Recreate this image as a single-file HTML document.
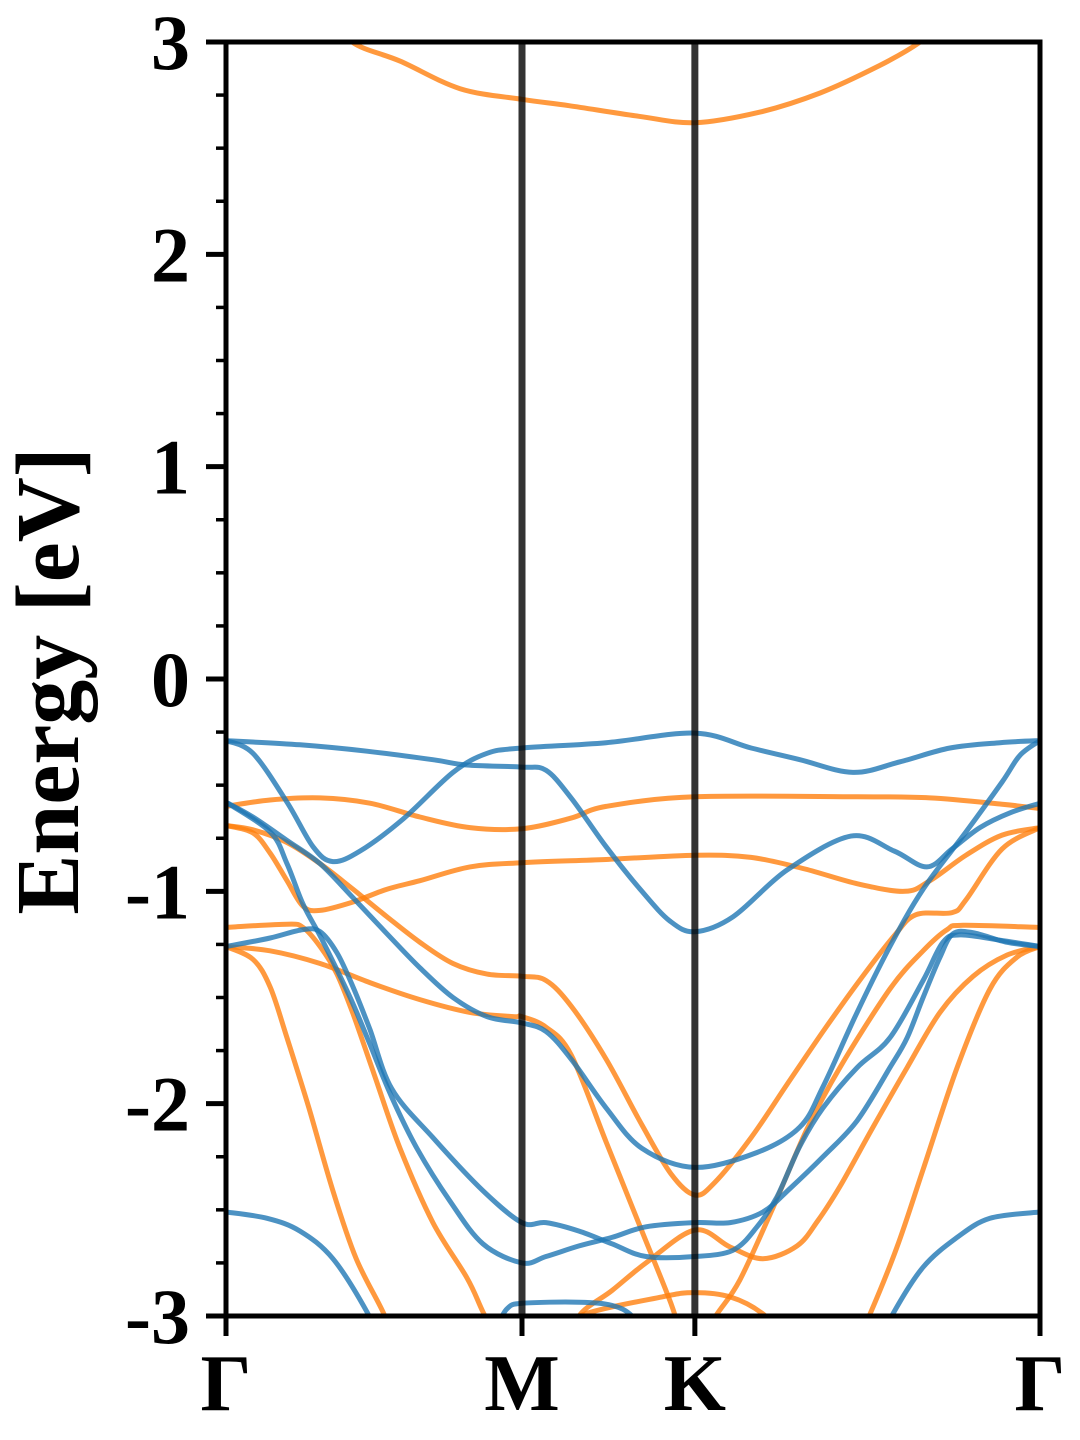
<!DOCTYPE html>
<html><head><meta charset="utf-8"><style>
html,body{margin:0;padding:0;background:#fff;}
svg{display:block;}
text{font-family:"Liberation Serif",serif;font-weight:bold;fill:#000;}
</style></head><body>
<svg id="chart" width="1080" height="1440" viewBox="0 0 1080 1440" xmlns="http://www.w3.org/2000/svg">
<defs><clipPath id="plotclip"><rect x="226" y="42" width="814" height="1274"/></clipPath></defs>
<g id="bands" clip-path="url(#plotclip)"></g>
<g id="vlines"></g>
<rect x="226" y="42" width="814" height="1274" fill="none" stroke="#000" stroke-width="5"/>
<g id="yaxis"></g>
<g id="xaxis"></g>
<text transform="translate(78,681) rotate(-90)" text-anchor="middle" font-size="90">Energy [eV]</text>
</svg>
<script>
const kLabels = ["Γ","M","K","Γ"];
const kTicks = [0, 1.0, 1.584, 2.75];
const yTicks = [-3,-2,-1,0,1,2,3];
const yMin = -3, yMax = 3;
// spin-up (blue) bands: [k, E]
const blue1 = [[0,-0.29],[0.25,-0.31],[0.476,-0.34],[0.699,-0.38],[0.814,-0.405],[1.0,-0.415],[1.081,-0.43],[1.166,-0.56],[1.284,-0.79],[1.405,-1.0],[1.5,-1.14],[1.584,-1.19],[1.713,-1.12],[1.895,-0.90],[2.111,-0.74],[2.257,-0.81],[2.368,-0.885],[2.453,-0.80],[2.547,-0.70],[2.649,-0.63],[2.75,-0.585]];
const blue2 = [[0,-0.29],[0.091,-0.35],[0.206,-0.58],[0.294,-0.79],[0.361,-0.86],[0.453,-0.81],[0.598,-0.66],[0.767,-0.44],[0.882,-0.35],[1.0,-0.325],[1.284,-0.30],[1.584,-0.255],[1.774,-0.325],[1.939,-0.38],[2.118,-0.44],[2.277,-0.39],[2.446,-0.325],[2.615,-0.30],[2.75,-0.29]];
const blue3 = [[0,-0.58],[0.091,-0.65],[0.206,-0.76],[0.318,-0.87],[0.429,-1.03],[0.544,-1.20],[0.655,-1.36],[0.767,-1.50],[0.882,-1.59],[1.0,-1.62],[1.081,-1.66],[1.166,-1.79],[1.284,-2.02],[1.405,-2.21],[1.584,-2.30],[1.794,-2.23],[1.939,-2.11],[2.017,-1.92],[2.132,-1.57],[2.243,-1.26],[2.355,-0.99],[2.5,-0.72],[2.622,-0.485],[2.682,-0.36],[2.75,-0.29]];
const blue4 = [[0,-0.58],[0.149,-0.72],[0.206,-0.87],[0.26,-1.06],[0.318,-1.21],[0.375,-1.37],[0.429,-1.53],[0.486,-1.72],[0.56,-1.97],[0.645,-2.21],[0.757,-2.46],[0.868,-2.66],[1.0,-2.75],[1.081,-2.72],[1.193,-2.67],[1.304,-2.63],[1.419,-2.58],[1.584,-2.56],[1.703,-2.56],[1.814,-2.51],[1.905,-2.40],[2.017,-2.25],[2.132,-2.08],[2.243,-1.83],[2.301,-1.69],[2.355,-1.50],[2.412,-1.31],[2.456,-1.20],[2.524,-1.195],[2.639,-1.24],[2.75,-1.26]];
const blue5 = [[0,-1.26],[0.149,-1.22],[0.26,-1.18],[0.318,-1.19],[0.375,-1.29],[0.429,-1.45],[0.486,-1.65],[0.56,-1.93],[0.699,-2.16],[0.868,-2.41],[1.0,-2.56],[1.081,-2.56],[1.193,-2.60],[1.304,-2.66],[1.419,-2.72],[1.584,-2.72],[1.713,-2.69],[1.794,-2.58],[1.861,-2.44],[1.939,-2.20],[2.017,-2.02],[2.132,-1.83],[2.243,-1.69],[2.355,-1.42],[2.422,-1.24],[2.48,-1.205],[2.615,-1.23],[2.75,-1.26]];
const blue6a = [[0,-2.51],[0.139,-2.54],[0.25,-2.60],[0.361,-2.73],[0.476,-2.98],[0.53,-3.15]];
const blue6b = [[2.2,-3.15],[2.253,-2.99],[2.355,-2.77],[2.47,-2.63],[2.581,-2.54],[2.75,-2.51]];
const blue7 = [[0.85,-3.15],[0.916,-3.04],[0.95,-2.965],[1.0,-2.94],[1.193,-2.935],[1.304,-2.95],[1.372,-3.0],[1.43,-3.12]];
// spin-down (orange) bands
const orng1 = [[0.35,3.15],[0.426,3.0],[0.588,2.91],[0.791,2.78],[1.0,2.73],[1.159,2.70],[1.395,2.65],[1.584,2.62],[1.804,2.67],[2.007,2.76],[2.209,2.89],[2.345,3.0],[2.42,3.1]];
const orng2 = [[0,-0.60],[0.149,-0.57],[0.318,-0.56],[0.486,-0.585],[0.655,-0.65],[0.824,-0.70],[1.0,-0.705],[1.166,-0.655],[1.284,-0.60],[1.584,-0.555],[2.135,-0.555],[2.378,-0.56],[2.622,-0.59],[2.75,-0.61]];
const orng3 = [[0,-0.69],[0.091,-0.725],[0.149,-0.82],[0.206,-0.95],[0.26,-1.07],[0.318,-1.09],[0.429,-1.05],[0.544,-0.99],[0.655,-0.95],[0.824,-0.885],[1.0,-0.865],[1.284,-0.85],[1.584,-0.83],[1.774,-0.84],[1.956,-0.895],[2.135,-0.965],[2.294,-1.0],[2.378,-0.95],[2.5,-0.83],[2.622,-0.735],[2.75,-0.70]];
const orng4 = [[0,-0.69],[0.091,-0.71],[0.206,-0.77],[0.318,-0.87],[0.429,-0.99],[0.544,-1.12],[0.655,-1.24],[0.767,-1.34],[0.882,-1.39],[1.0,-1.40],[1.081,-1.42],[1.166,-1.54],[1.284,-1.79],[1.405,-2.10],[1.503,-2.33],[1.584,-2.43],[1.652,-2.37],[1.774,-2.16],[1.895,-1.91],[2.017,-1.66],[2.135,-1.43],[2.257,-1.21],[2.331,-1.11],[2.453,-1.10],[2.5,-1.04],[2.622,-0.80],[2.75,-0.70]];
const orng5 = [[0,-1.17],[0.206,-1.155],[0.26,-1.17],[0.318,-1.26],[0.375,-1.39],[0.43,-1.58],[0.50,-1.86],[0.588,-2.21],[0.699,-2.56],[0.814,-2.82],[0.868,-2.98],[0.93,-3.15]];
const orng6 = [[0,-1.26],[0.149,-1.28],[0.318,-1.34],[0.486,-1.43],[0.655,-1.51],[0.824,-1.57],[0.97,-1.59],[1.0,-1.59],[1.081,-1.64],[1.166,-1.77],[1.284,-2.18],[1.405,-2.60],[1.503,-2.94],[1.55,-3.15]];
const orng7 = [[0,-1.26],[0.091,-1.32],[0.149,-1.45],[0.206,-1.69],[0.28,-2.02],[0.361,-2.41],[0.44,-2.73],[0.53,-2.98],[0.58,-3.15]];
const orng8 = [[1.58,-3.15],[1.659,-2.99],[1.736,-2.83],[1.848,-2.49],[1.963,-2.12],[2.074,-1.83],[2.243,-1.46],[2.355,-1.28],[2.436,-1.18],[2.49,-1.16],[2.75,-1.17]];
const orng9 = [[1.18,-3.15],[1.193,-3.0],[1.304,-2.88],[1.419,-2.75],[1.584,-2.595],[1.703,-2.675],[1.814,-2.73],[1.929,-2.67],[2.0,-2.55],[2.074,-2.39],[2.186,-2.11],[2.301,-1.83],[2.412,-1.57],[2.524,-1.40],[2.639,-1.30],[2.75,-1.26]];
const orng10 = [[1.1,-3.12],[1.193,-3.0],[1.473,-2.91],[1.584,-2.89],[1.703,-2.91],[1.814,-2.99],[1.9,-3.12]];
const orng11 = [[2.12,-3.15],[2.176,-2.99],[2.267,-2.675],[2.355,-2.31],[2.47,-1.83],[2.581,-1.46],[2.672,-1.31],[2.75,-1.26]];

const blueBands = [blue1,blue2,blue3,blue4,blue5,blue6a,blue6b,blue7];
const orangeBands = [orng1,orng2,orng3,orng4,orng5,orng6,orng7,orng8,orng9,orng10,orng11];

const X0=226, X1=1040, Y0=42, Y1=1316;
const kMax = kTicks[kTicks.length-1];
function xs(k){return X0 + k/kMax*(X1-X0);}
function ys(e){return Y1 - (e-yMin)/(yMax-yMin)*(Y1-Y0);}
const NS="http://www.w3.org/2000/svg";

function pathFor(pts){
  const p = pts.map(d=>[xs(d[0]),ys(d[1])]);
  let s = "M"+p[0][0].toFixed(1)+","+p[0][1].toFixed(1);
  for(let i=0;i<p.length-1;i++){
    const p0=p[Math.max(0,i-1)], p1=p[i], p2=p[i+1], p3=p[Math.min(p.length-1,i+2)];
    const c1x=p1[0]+(p2[0]-p0[0])/6, c1y=p1[1]+(p2[1]-p0[1])/6;
    const c2x=p2[0]-(p3[0]-p1[0])/6, c2y=p2[1]-(p3[1]-p1[1])/6;
    s+=" C"+c1x.toFixed(1)+","+c1y.toFixed(1)+" "+c2x.toFixed(1)+","+c2y.toFixed(1)+" "+p2[0].toFixed(1)+","+p2[1].toFixed(1);
  }
  return s;
}
const gB=document.getElementById("bands");
orangeBands.forEach((b,i)=>{
  const el=document.createElementNS(NS,"path");
  el.setAttribute("d",pathFor(b));
  el.setAttribute("fill","none");el.setAttribute("stroke","#ff7f0e");el.setAttribute("stroke-opacity","0.8");el.setAttribute("stroke-width","5");
  
  
  gB.appendChild(el);
});
blueBands.forEach((b,i)=>{
  const el=document.createElementNS(NS,"path");
  el.setAttribute("d",pathFor(b));
  el.setAttribute("fill","none");el.setAttribute("stroke","#1f77b4");el.setAttribute("stroke-opacity","0.8");el.setAttribute("stroke-width","5");
  
  
  gB.appendChild(el);
});
const gV=document.getElementById("vlines");
[kTicks[1],kTicks[2]].forEach((k,i)=>{
  const l=document.createElementNS(NS,"line");
  l.setAttribute("x1",xs(k));l.setAttribute("x2",xs(k));l.setAttribute("y1",Y0);l.setAttribute("y2",Y1);
  l.setAttribute("stroke","#000");l.setAttribute("stroke-opacity","0.8");l.setAttribute("stroke-width","7");
  
  
  gV.appendChild(l);
});
const gY=document.getElementById("yaxis");
for(let v=yMin; v<=yMax+1e-9; v+=0.25){
  const major=Math.abs(v-Math.round(v))<1e-6;
  const t=document.createElementNS(NS,"line");
  t.setAttribute("x1",X0);t.setAttribute("x2",X0-(major?20:10));t.setAttribute("y1",ys(v));t.setAttribute("y2",ys(v));
  t.setAttribute("stroke","#000");t.setAttribute("stroke-width",major?5:3.5);
  
  
  gY.appendChild(t);
}
yTicks.forEach(v=>{
  const t=document.createElementNS(NS,"text");
  t.setAttribute("x",190);t.setAttribute("y",ys(v)+27);t.setAttribute("text-anchor","end");t.setAttribute("font-size","78");
  t.textContent=String(v);
  
  
  gY.appendChild(t);
});
const gX=document.getElementById("xaxis");
kTicks.forEach((k,i)=>{
  const t=document.createElementNS(NS,"line");
  t.setAttribute("x1",xs(k));t.setAttribute("x2",xs(k));t.setAttribute("y1",Y1);t.setAttribute("y2",Y1+20);
  t.setAttribute("stroke","#000");t.setAttribute("stroke-width",5);
  
  
  gX.appendChild(t);
  const lb=document.createElementNS(NS,"text");
  lb.setAttribute("x",xs(k));lb.setAttribute("y",1410);lb.setAttribute("text-anchor","middle");lb.setAttribute("font-size","80");
  lb.textContent=kLabels[i];
  
  
  gX.appendChild(lb);
});
</script>
</body></html>
